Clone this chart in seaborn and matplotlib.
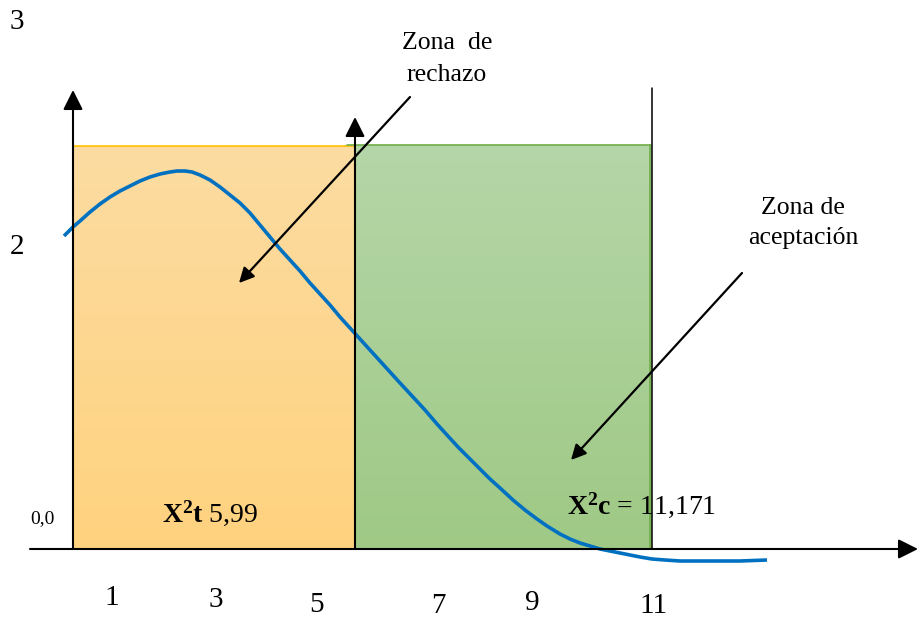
import numpy as np
import pandas as pd
import seaborn as sns
import matplotlib
matplotlib.use("Agg")
import matplotlib.pyplot as plt
from matplotlib.colors import LinearSegmentedColormap

# ---------------- data (chart units: origin at axes crossing) ----------------
curve_x = [-9, 0, 7, 17, 27, 37, 47, 57, 67, 77, 87, 97, 104, 112, 119, 127, 137, 147,
           157, 167, 177, 187, 197, 207, 217, 227, 237, 247, 257, 267, 277, 287, 297,
           307, 317, 327, 340, 352, 364, 374, 385, 397, 407, 417, 427, 440, 452, 464,
           474, 487, 497, 507, 517, 527, 537, 547, 557, 567, 579, 592, 607, 627, 647,
           667, 694]
curve_y = [313, 322, 328, 337, 345, 352, 358, 363, 368, 372, 375, 377, 378, 378, 377,
           374, 369, 362, 354, 346, 336, 324, 312, 300, 289, 278, 266, 255, 244, 232,
           221, 210, 199, 188, 177, 166, 152, 139, 125, 114, 102, 90, 80, 70, 61, 49,
           39, 30, 23, 15, 10, 6, 3, 0, -2, -4, -6, -8, -10, -11, -12, -12, -12, -12, -11]

zone_names = ["Zona de rechazo", "Zona de aceptación"]
zone_start = [0, 282]
zone_end = [282, 578]
zone_top = [403, 404]

x_tick_labels = ["1", "3", "5", "7", "9", "11"]
y_tick_labels = ["3", "2", "0,0"]
chi_t_label = r"$\mathbf{X^{2}t}$ 5,99"
chi_c_label = r"$\mathbf{X^{2}c}$ = 11,171"

# ---------------- style ----------------
sns.set_theme(style="white")
plt.rcParams['font.family'] = ['Liberation Serif', 'DejaVu Serif']
plt.rcParams['text.color'] = 'black'
plt.rcParams['mathtext.fontset'] = 'custom'
plt.rcParams['mathtext.rm'] = 'Liberation Serif'
plt.rcParams['mathtext.bf'] = 'Liberation Serif:bold'
plt.rcParams['mathtext.it'] = 'Liberation Serif:italic'

fig = plt.figure(figsize=(9.22, 6.21), dpi=100)
ax = fig.add_axes([0, 0, 1, 1])
ax.axis('off')

# gradient zones
grad_specs = [("#FFD27E", "#FCDCA2", "#FFC000"),
              ("#9FC985", "#B5D6A8", "#70AD47")]
grad = np.linspace(0, 1, 256).reshape(-1, 1)
for i, (c_bot, c_top, edge) in enumerate(grad_specs):
    cmap = LinearSegmentedColormap.from_list(f"z{i}", [c_bot, c_top])
    ax.imshow(grad, extent=(zone_start[i], zone_end[i], 0, zone_top[i]),
              origin='lower', aspect='auto', cmap=cmap, zorder=1)
    x0 = zone_start[i] - (8 if i == 1 else 0)
    ax.plot([x0, zone_end[i]], [zone_top[i], zone_top[i]], color=edge, lw=1.2, zorder=2)
ax.plot([zone_end[1] - 1, zone_end[1] - 1], [0, zone_top[1]], color="#70AD47", lw=1.2, zorder=2)

# curve
sns.lineplot(x=curve_x, y=curve_y, color="#0070C0", lw=2.6, ax=ax, zorder=6,
             estimator=None, sort=False)
for ln in ax.lines[-1:]:
    ln.set_solid_joinstyle('round')
    ln.set_solid_capstyle('butt')

def arrow(tail, tip, lw=1.5, hl=0.6, hw=0.3, ms=20):
    ax.annotate('', xy=tip, xytext=tail, zorder=7,
                arrowprops=dict(arrowstyle=f'-|>,head_length={hl},head_width={hw}',
                                mutation_scale=ms, lw=lw, color='black',
                                shrinkA=0, shrinkB=0))

# axes
arrow((0, 0), (0, 459))
arrow((zone_end[0], 0), (zone_end[0], 432))
ax.plot([zone_end[1] + 1, zone_end[1] + 1], [0, 461], color='black', lw=1.1, zorder=7)
arrow((-43, 0), (845, 0))

# pointer arrows
arrow((337, 452), (166, 266), lw=1.6, hl=0.5, hw=0.25, ms=18)
arrow((669, 276), (498, 89), lw=1.6, hl=0.5, hw=0.25, ms=18)

# labels
for lab, x, y in zip(x_tick_labels, [39, 143, 243, 365, 459, 580], [-49, -51, -56, -57, -54, -57]):
    ax.text(x, y, lab, ha='center', va='center', fontsize=21)
for lab, x, y, fs in zip(y_tick_labels, [-56, -56, -31], [527, 302, 30], [21, 21, 14]):
    ax.text(x, y, lab, ha='center', va='center', fontsize=fs)

ax.text(374, 506, "Zona  de", ha='center', va='center', fontsize=18.5)
ax.text(374, 474, "rechazo", ha='center', va='center', fontsize=18.5)
ax.text(730, 341, "Zona de", ha='center', va='center', fontsize=18.5)
ax.text(730, 311, "aceptación", ha='center', va='center', fontsize=18.5)

ax.text(89, 36, chi_t_label, ha='left', va='center', fontsize=20, zorder=8)
ax.text(494, 44, chi_c_label, ha='left', va='center', fontsize=20, zorder=8)

ax.set_xlim(-73, 849)
ax.set_ylim(-72, 549)

fig.savefig("out.png", dpi=100)
